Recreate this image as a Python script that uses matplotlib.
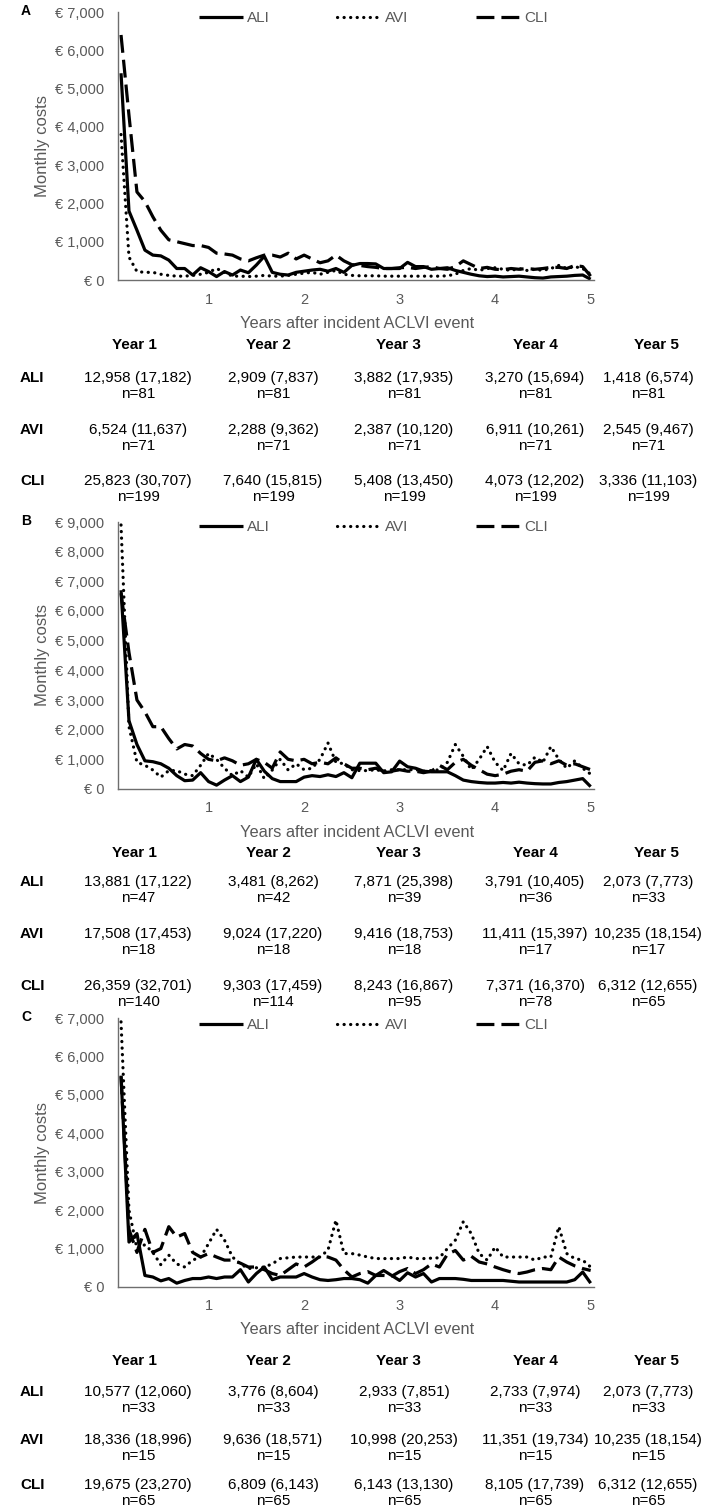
import matplotlib
matplotlib.use("Agg")
import matplotlib.pyplot as plt
from matplotlib.ticker import FuncFormatter

W, H = 706, 1509
FONT = ["Liberation Sans", "DejaVu Sans"]
GREY = "#595959"

months = list(range(1, 61))
year_ticks = [12, 24, 36, 48, 60]
year_labels = ["1", "2", "3", "4", "5"]
series_names = ["ALI", "AVI", "CLI"]
col_headers = ["Year 1", "Year 2", "Year 3", "Year 4", "Year 5"]

# --- panel A: monthly costs (EUR) ---
a_ali = [5400, 1800, 1300, 780, 650, 630, 520, 300, 300, 130, 320, 220, 90, 220, 130, 260, 190, 390, 620, 200,
         150, 130, 200, 230, 260, 280, 230, 300, 200, 380, 430, 430, 420, 300, 300, 300, 460, 350, 350, 280,
         300, 320, 250, 200, 150, 110, 90, 100, 80, 90, 100, 80, 60, 50, 80, 90, 100, 120, 130, 20]
a_avi = [3800, 600, 220, 200, 200, 150, 120, 100, 100, 120, 150, 200, 300, 200, 100, 100, 90, 100, 120, 100,
         100, 120, 150, 180, 200, 150, 200, 250, 150, 120, 110, 110, 110, 100, 100, 100, 100, 100, 100, 100,
         100, 110, 150, 250, 300, 250, 300, 320, 280, 250, 300, 250, 280, 250, 300, 380, 300, 350, 300, 150]
a_cli = [6400, 4300, 2300, 2050, 1650, 1300, 1050, 1000, 950, 900, 900, 850, 700, 680, 650, 550, 500, 580, 650, 650,
         600, 700, 550, 650, 550, 450, 500, 650, 500, 400, 380, 350, 330, 300, 300, 320, 330, 300, 330, 350,
         300, 280, 350, 500, 400, 300, 330, 280, 270, 300, 280, 300, 280, 300, 330, 330, 300, 380, 350, 100]

# --- panel B ---
b_ali = [6700, 2300, 1500, 950, 920, 850, 700, 450, 280, 300, 550, 250, 130, 300, 450, 250, 400, 1000, 600, 350,
         250, 250, 250, 400, 450, 420, 480, 420, 550, 380, 870, 870, 870, 550, 580, 940, 750, 700, 600, 580,
         580, 580, 450, 300, 250, 220, 200, 200, 220, 200, 230, 200, 180, 170, 170, 220, 250, 300, 350, 80]
b_avi = [8900, 2100, 900, 800, 640, 400, 620, 620, 500, 450, 800, 1200, 1000, 700, 450, 620, 400, 850, 350, 640,
         1000, 640, 850, 650, 700, 1000, 1550, 900, 850, 650, 620, 620, 650, 600, 650, 650, 650, 650, 600, 620,
         650, 900, 1500, 1100, 650, 1000, 1430, 900, 620, 1200, 850, 800, 1070, 900, 1430, 1000, 700, 950, 700, 500]
b_cli = [6600, 4600, 3000, 2600, 2100, 2100, 1700, 1350, 1500, 1450, 1200, 1000, 950, 1050, 950, 800, 850, 1000, 900, 700,
         1250, 1000, 950, 1000, 850, 900, 850, 1050, 850, 700, 700, 650, 700, 600, 600, 650, 600, 600, 550, 600,
         800, 650, 900, 1000, 800, 650, 500, 450, 500, 600, 650, 600, 900, 950, 850, 950, 800, 850, 750, 650]

# --- panel C ---
c_ali = [5500, 1170, 1390, 300, 260, 160, 220, 100, 170, 220, 220, 260, 220, 260, 260, 450, 130, 350, 520, 190,
         260, 260, 260, 350, 260, 190, 170, 190, 220, 220, 190, 100, 300, 430, 300, 170, 370, 260, 350, 130,
         220, 220, 220, 200, 170, 170, 170, 170, 170, 150, 130, 130, 130, 130, 130, 130, 130, 190, 390, 100]
c_avi = [6900, 2000, 1000, 1100, 900, 580, 830, 600, 520, 700, 780, 1130, 1500, 1220, 780, 600, 480, 500, 520, 600,
         740, 760, 780, 780, 780, 780, 960, 1740, 870, 870, 830, 780, 740, 740, 740, 740, 780, 740, 740, 750,
         760, 1000, 1220, 1700, 1390, 870, 700, 1040, 780, 780, 780, 780, 700, 780, 780, 1570, 870, 740, 700, 520]
c_cli = [5480, 1500, 900, 1500, 900, 1000, 1570, 1300, 1390, 900, 780, 870, 780, 700, 700, 620, 520, 520, 450, 350,
         300, 450, 600, 520, 650, 800, 780, 700, 450, 260, 350, 400, 300, 300, 280, 400, 480, 350, 450, 600,
         520, 850, 950, 700, 800, 650, 600, 520, 450, 390, 350, 390, 450, 480, 450, 780, 650, 550, 480, 430]

# --- tables: mean (SD) and n per year ---
a_tab = {
    "ALI": (["12,958 (17,182)", "2,909 (7,837)", "3,882 (17,935)", "3,270 (15,694)", "1,418 (6,574)"], [81, 81, 81, 81, 81]),
    "AVI": (["6,524 (11,637)", "2,288 (9,362)", "2,387 (10,120)", "6,911 (10,261)", "2,545 (9,467)"], [71, 71, 71, 71, 71]),
    "CLI": (["25,823 (30,707)", "7,640 (15,815)", "5,408 (13,450)", "4,073 (12,202)", "3,336 (11,103)"], [199, 199, 199, 199, 199]),
}
b_tab = {
    "ALI": (["13,881 (17,122)", "3,481 (8,262)", "7,871 (25,398)", "3,791 (10,405)", "2,073 (7,773)"], [47, 42, 39, 36, 33]),
    "AVI": (["17,508 (17,453)", "9,024 (17,220)", "9,416 (18,753)", "11,411 (15,397)", "10,235 (18,154)"], [18, 18, 18, 17, 17]),
    "CLI": (["26,359 (32,701)", "9,303 (17,459)", "8,243 (16,867)", "7,371 (16,370)", "6,312 (12,655)"], [140, 114, 95, 78, 65]),
}
c_tab = {
    "ALI": (["10,577 (12,060)", "3,776 (8,604)", "2,933 (7,851)", "2,733 (7,974)", "2,073 (7,773)"], [33, 33, 33, 33, 33]),
    "AVI": (["18,336 (18,996)", "9,636 (18,571)", "10,998 (20,253)", "11,351 (19,734)", "10,235 (18,154)"], [15, 15, 15, 15, 15]),
    "CLI": (["19,675 (23,270)", "6,809 (6,143)", "6,143 (13,130)", "8,105 (17,739)", "6,312 (12,655)"], [65, 65, 65, 65, 65]),
}

# layout in pixels: letter, data, ymax, axes top/bottom, legend y, table, header y, row ys
panels = [
    ("A", (a_ali, a_avi, a_cli), 7000, 12, 280, 18, a_tab, 345, [378, 430, 481]),
    ("B", (b_ali, b_avi, b_cli), 9000, 522, 789, 527, b_tab, 853, [882, 934, 986]),
    ("C", (c_ali, c_avi, c_cli), 7000, 1018, 1287, 1025, c_tab, 1361, [1392, 1440, 1485]),
]
AX_L, AX_R = 118, 594
HEAD_X = [134, 268, 398, 535, 656]
VAL_X = [138, 273, 404, 535, 648]
ROW_LABEL_X = 20
TXT = 11

LW = 2.3
styles = [
    dict(linestyle="-", solid_capstyle="butt"),
    dict(linestyle=(0, (0.05, 2.0)), dash_capstyle="round"),
    dict(linestyle=(0, (5.6, 2.2)), dash_capstyle="butt"),
]


def fx(px):
    return px / W


def fy(py):
    return 1 - py / H


plt.rcParams["font.family"] = FONT
fig = plt.figure(figsize=(W / 100, H / 100), dpi=100)
euro = FuncFormatter(lambda v, _: f"€ {int(v):,}")

for letter, data, ymax, top, bottom, leg_y, tab, head_y, row_ys in panels:
    ax = fig.add_axes([fx(AX_L), fy(bottom), (AX_R - AX_L) / W, (bottom - top) / H])
    handles = []
    for name, vals, st in zip(series_names, data, styles):
        (ln,) = ax.plot(months, vals, color="black", lw=LW, label=name, **st)
        handles.append(ln)
    ax.set_xlim(0.62, 60.42)
    ax.set_ylim(0, ymax)
    ax.set_yticks(range(0, ymax + 1, 1000))
    ax.yaxis.set_major_formatter(euro)
    ax.set_xticks(year_ticks)
    ax.set_xticklabels(year_labels)
    ax.tick_params(length=0, colors=GREY, labelsize=10.5)
    ax.tick_params(axis="y", pad=10)
    ax.tick_params(axis="x", pad=9)
    for s in ("top", "right"):
        ax.spines[s].set_visible(False)
    for s in ("left", "bottom"):
        ax.spines[s].set_color("#6e6e6e")
        ax.spines[s].set_linewidth(1.0)

    leg = ax.legend(handles, series_names, loc="center", ncol=3, frameon=False,
                    bbox_to_anchor=(0.536, (bottom - leg_y) / (bottom - top)),
                    handlelength=2.9, handletextpad=0.25, columnspacing=4.4,
                    fontsize=11)
    for t in leg.get_texts():
        t.set_color(GREY)

    fig.text(fx(26), fy(top - 1), letter, fontsize=10, fontweight="bold",
             ha="center", va="center")
    fig.text(fx(43), fy((top + bottom) / 2), "Monthly costs", rotation=90,
             fontsize=12, color=GREY, ha="center", va="center")
    fig.text(fx(357), fy(bottom + 43), "Years after incident ACLVI event",
             fontsize=11.8, color=GREY, ha="center", va="center")

    # table below the chart
    for hx, h in zip(HEAD_X, col_headers):
        fig.text(fx(hx), fy(head_y), h, fontsize=TXT, fontweight="bold",
                 ha="center", va="center")
    for ry, name in zip(row_ys, series_names):
        cells, ns = tab[name]
        fig.text(fx(ROW_LABEL_X), fy(ry), name, fontsize=TXT, fontweight="bold",
                 ha="left", va="center")
        for vx, cell, n in zip(VAL_X, cells, ns):
            fig.text(fx(vx), fy(ry), cell, fontsize=TXT, ha="center", va="center")
            fig.text(fx(vx), fy(ry + 16), f"n={n}", fontsize=TXT, ha="center", va="center")

fig.savefig("out.png", dpi=100, facecolor="white")
